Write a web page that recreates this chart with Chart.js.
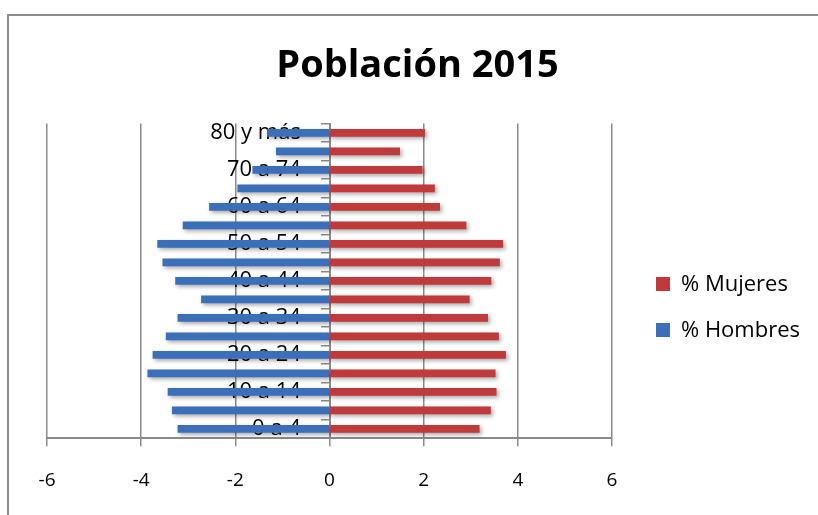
<!DOCTYPE html>
<html>
<head>
<meta charset="utf-8">
<script src="https://cdn.jsdelivr.net/npm/chart.js@4"></script>
<style>
  html, body { margin: 0; padding: 0; background: #fff; }
  #wrap { position: relative; width: 818px; height: 515px; overflow: hidden; }
  #frame { position: absolute; left: 7px; top: 14px; width: 820px; height: 520px;
           border-top: 2px solid #8c8c8c; border-left: 2px solid #8c8c8c; }
  canvas { position: absolute; left: 0; top: 0; }
</style>
</head>
<body>
<div id="wrap">
  <div id="frame"></div>
  <canvas id="pyramid" width="818" height="515"></canvas>
</div>
<script>
  // grupos de edad (de abajo hacia arriba)
  const categories = ['0 a 4', '5 a 9', '10 a 14', '15 a 19', '20 a 24', '25 a 29', '30 a 34', '35 a 39',
    '40 a 44', '45 a 49', '50 a 54', '55 a 59', '60 a 64', '65 a 69', '70 a 74', '75 a 79', '80 y más'];
  const hombres = [-3.22, -3.34, -3.43, -3.86, -3.75, -3.47, -3.22, -2.72,
    -3.27, -3.54, -3.65, -3.11, -2.55, -1.95, -1.63, -1.13, -1.32];
  const mujeres = [3.18, 3.42, 3.54, 3.52, 3.74, 3.59, 3.36, 2.97,
    3.43, 3.61, 3.68, 2.90, 2.34, 2.23, 1.97, 1.49, 2.02];
  const xTicks = [-6, -4, -2, 0, 2, 4, 6];

  const gris = '#8a8a8a';
  const fuente = 'Open Sans';
  const rojo = '#c0393b';
  const azul = '#3b6fba';

  // cuadrito de la leyenda, desplazado a la derecha (deja hueco con el gráfico)
  function legendBox(color) {
    const c = document.createElement('canvas');
    c.width = 34;
    c.height = 14;
    const g = c.getContext('2d');
    g.fillStyle = color;
    g.fillRect(20, 0, 14, 14);
    return c;
  }

  // sombra de las barras (como en Excel)
  const barShadow = {
    id: 'barShadow',
    beforeDatasetsDraw(chart) {
      const c = chart.ctx;
      c.save();
      c.shadowColor = 'rgba(0,0,0,0.35)';
      c.shadowBlur = 4;
      c.shadowOffsetX = 2;
      c.shadowOffsetY = 2;
    },
    afterDatasetsDraw(chart) {
      chart.ctx.restore();
    }
  };

  const ctx = document.getElementById('pyramid').getContext('2d');
  new Chart(ctx, {
    type: 'bar',
    data: {
      labels: categories,
      datasets: [{
        label: '% Mujeres',
        data: mujeres,
        backgroundColor: rojo,
        pointStyle: legendBox(rojo),
        barThickness: 7
      },
      {
        label: '% Hombres',
        data: hombres,
        backgroundColor: azul,
        pointStyle: legendBox(azul),
        barThickness: 7
      }]
    },
    plugins: [barShadow],
    options: {
      indexAxis: 'y',
      responsive: false,
      animation: false,
      layout: { padding: { left: 17, right: 0, top: 0, bottom: 0 } },
      plugins: {
        title: {
          display: true,
          text: 'Población 2015',
          color: '#000',
          font: { family: fuente, size: 38, weight: 'bold' },
          padding: { top: 43, bottom: 35 }
        },
        legend: {
          position: 'right',
          fullSize: false,
          title: { display: true, text: ' ', font: { size: 10 }, padding: { top: 41, bottom: 0 } },
          labels: {
            usePointStyle: true,
            pointStyleWidth: 34,
            boxHeight: 14,
            padding: 24,
            color: '#000',
            font: { family: fuente, size: 22 }
          }
        },
        tooltip: { enabled: false }
      },
      scales: {
        x: {
          stacked: true,
          min: -6,
          max: 6,
          afterBuildTicks: (s) => { s.ticks = xTicks.map(v => ({ value: v })); },
          // margen del área de trazado (izq. 47px, der. hasta x=612)
          afterFit: (s) => { s.paddingLeft = 47; s.paddingRight = 206; },
          grid: { color: gris, lineWidth: 1.5, tickLength: 8 },
          border: { color: gris, width: 2 },
          ticks: { color: '#000', padding: 23, font: { family: fuente, size: 19 } }
        },
        y: {
          stacked: true,
          reverse: true,
          position: { x: 0 },
          z: 1,
          grid: { display: true, drawOnChartArea: false, offset: true, color: gris, lineWidth: 1.5, tickLength: 8 },
          border: { color: gris, width: 2 },
          ticks: {
            autoSkip: false,
            color: '#000',
            font: { family: fuente, size: 22 },
            callback: function (value, index) {
              // espacios al final para separar la etiqueta del eje
              return index % 2 === 0 ? this.getLabelForValue(value) + '     ' : '';
            }
          }
        }
      }
    }
  });
</script>
</body>
</html>
